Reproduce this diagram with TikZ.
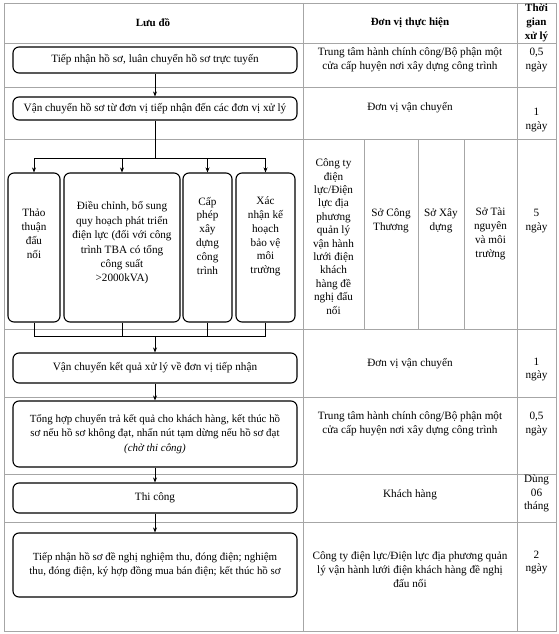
\documentclass[tikz,border=0pt]{standalone}
\usepackage{fontspec}
\setmainfont{Liberation Serif}
\usetikzlibrary{arrows.meta}

\begin{document}
\begin{tikzpicture}[x=1pt, y=-1pt,
  every node/.style={font=\fontsize{11.2}{13.8}\selectfont, inner sep=0pt, align=center},
  grid/.style={draw=gray!70, line width=0.6pt},
  head/.style={font=\fontsize{11}{14}\selectfont\bfseries},
  flowbox/.style={draw, line width=1.1pt, rounded corners=6pt, minimum width=284pt},
  subbox/.style={draw, line width=1.1pt, rounded corners=6pt, minimum height=149pt},
  wire/.style={line width=0.7pt},
  link/.style={wire, -{Stealth[length=5pt,width=4pt]}}]
  \useasboundingbox (0,0) rectangle (559,634);
  % Table
  \draw[grid] (4,3) rectangle (556,631);
  \foreach \y in {43,87,139,329,397,474,522} {
    \draw[grid] (4,\y) -- (556,\y);
  }
  \draw[grid] (303,3) -- (303,631);
  \draw[grid] (517,3) -- (517,631);
  \foreach \x in {364,418,464} {
    \draw[grid] (\x,139) -- (\x,329);
  }
  \node[head] (h1) at (153,23) {Lưu đồ};
  \node[head] (h2) at (410,23) {Đơn vị thực hiện};
  \node[head] (h3) at (536.5,23) {Thời\\gian\\xử lý};
  % Flow boxes
  \node[flowbox, minimum height=26pt] (b1) at (155,60) {Tiếp nhận hồ sơ, luân chuyển hồ sơ trực tuyến};
  \node[flowbox, minimum height=23pt] (b2) at (155,108.5) {Vận chuyển hồ sơ từ đơn vị tiếp nhận đến các đơn vị xử lý};
  \node[subbox, minimum width=52pt] (s1) at (34,247.5) {};
  \node[subbox, minimum width=116pt] (s2) at (122,247.5) {};
  \node[subbox, minimum width=49pt] (s3) at (207.5,247.5) {};
  \node[subbox, minimum width=59pt] (s4) at (265.5,247.5) {};
  \node (t1) at (34,233.5) {Thảo\\thuận\\đấu\\nối};
  \node[font=\fontsize{11.2}{14.4}\selectfont] (t2) at (122,243) {Điều chỉnh, bổ sung\\quy hoạch phát triển\\điện lực (đối với công\\trình TBA có tổng\\công suất\\>2000kVA)};
  \node (t3) at (207.5,235.5) {Cấp\\phép\\xây\\dựng\\công\\trình};
  \node (t4) at (265.5,236.5) {Xác\\nhận kế\\hoạch\\bảo vệ\\môi\\trường};
  \node[flowbox, minimum height=30pt] (b4) at (155,368) {Vận chuyển kết quả xử lý về đơn vị tiếp nhận};
  \node[flowbox, minimum height=66pt, font=\fontsize{10.9}{14.4}\selectfont] (b5) at (155,434) {Tổng hợp chuyển trả kết quả cho khách hàng, kết thúc hồ\\sơ nếu hồ sơ không đạt, nhấn nút tạm dừng nếu hồ sơ đạt\\\textit{(chờ thi công)}};
  \node[flowbox, minimum height=30pt] (b6) at (155,498) {Thi công};
  \node[flowbox, minimum height=64pt, font=\fontsize{10.9}{14.4}\selectfont] (b7) at (155,565) {Tiếp nhận hồ sơ đề nghị nghiệm thu, đóng điện; nghiệm\\thu, đóng điện, ký hợp đồng mua bán điện; kết thúc hồ sơ};
  % Connectors
  \coordinate (split) at (155,158);
  \coordinate (join) at (155,336);
  \draw[link] (b1) -- (b2);
  \draw[wire] (b2.south) -- (split);
  \draw[wire] (split -| s1.north) -- (split -| s4.north);
  \foreach \n in {s1,s2,s3,s4} {
    \draw[link] (split -| \n.north) -- (\n.north);
    \draw[wire] (\n.south) -- (join -| \n.south);
  }
  \draw[wire] (join -| s1.south) -- (join -| s4.south);
  \draw[link] (join) -- (b4);
  \draw[link] (b4) -- (b5);
  \draw[link] (b5) -- (b6);
  \draw[link] (b6) -- (b7);
  % Units and times
  \node (u1) at (410,60) {Trung tâm hành chính công/Bộ phận một\\cửa cấp huyện nơi xây dựng công trình};
  \node (d1) at (536.5,60) {0,5\\ngày};
  \node (u2) at (410,108) {Đơn vị vận chuyển};
  \node (d2) at (536.5,120) {1\\ngày};
  \node[font=\fontsize{11.2}{13.4}\selectfont] (u3a) at (333.5,236.5) {Công ty\\điện\\lực/Điện\\lực địa\\phương\\quản lý\\vận hành\\lưới điện\\khách\\hàng đề\\nghị đấu\\nối};
  \node (u3b) at (391,221) {Sở Công\\Thương};
  \node (u3c) at (441,221) {Sở Xây\\dựng};
  \node (u3d) at (490.5,234) {Sở Tài\\nguyên\\và môi\\trường};
  \node (d3) at (536.5,221) {5\\ngày};
  \node (u4) at (410,364) {Đơn vị vận chuyển};
  \node (d4) at (536.5,369.5) {1\\ngày};
  \node (u5) at (410,424) {Trung tâm hành chính công/Bộ phận một\\cửa cấp huyện nơi xây dựng công trình};
  \node (d5) at (536.5,424) {0,5\\ngày};
  \node (u6) at (410,495) {Khách hàng};
  \node (d6) at (536.5,493.5) {Dùng\\06\\tháng};
  \node (u7) at (410,569.5) {Công ty điện lực/Điện lực địa phương quản\\lý vận hành lưới điện khách hàng đề nghị\\đấu nối};
  \node (d7) at (536.5,562.5) {2\\ngày};
\end{tikzpicture}
\end{document}
